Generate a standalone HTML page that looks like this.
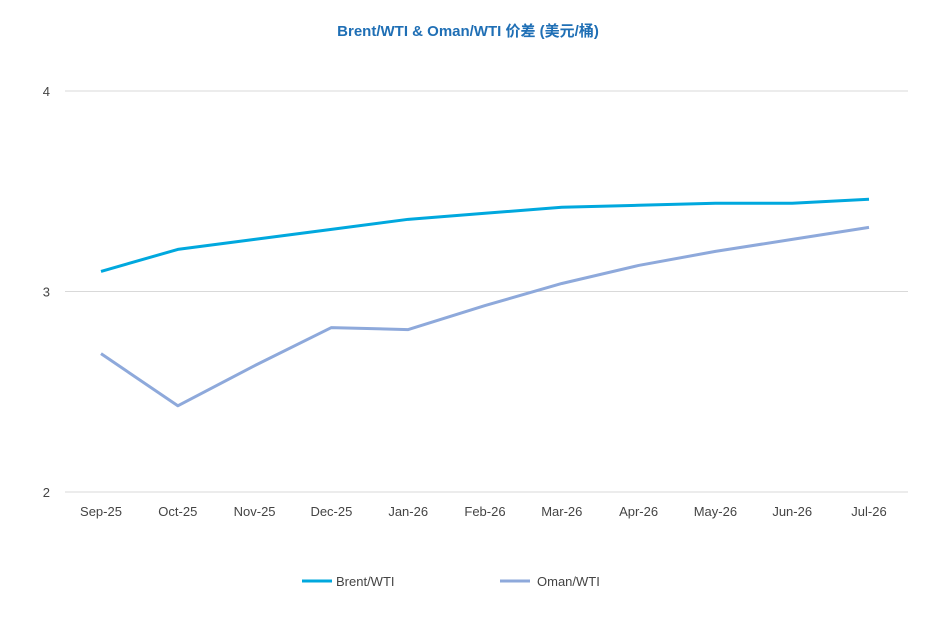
<!DOCTYPE html>
<html><head><meta charset="utf-8"><style>
html,body{margin:0;padding:0;background:#fff;}
svg{display:block;font-family:"Liberation Sans","Noto Sans CJK SC",sans-serif;}
</style></head><body>
<svg id="chart" width="937" height="634" viewBox="0 0 937 634">
<text x="468" y="36" text-anchor="middle" font-size="15" font-weight="bold" fill="#1F6FB5">Brent/WTI &amp; Oman/WTI 价差 (美元/桶)</text>
<g id="grid"></g><g id="xlabels"></g><g id="lines"></g>
<g>
<line x1="302" y1="581" x2="332" y2="581" stroke="#00A8DE" stroke-width="3"/>
<text x="336" y="586" font-size="13" fill="#444">Brent/WTI</text>
<line x1="500" y1="581" x2="530" y2="581" stroke="#8EA9DB" stroke-width="3"/>
<text x="537" y="586" font-size="13" fill="#444">Oman/WTI</text>
</g>
</svg>
<script>
const categories=["Sep-25","Oct-25","Nov-25","Dec-25","Jan-26","Feb-26","Mar-26","Apr-26","May-26","Jun-26","Jul-26"];
const brentWti=[3.10,3.21,3.26,3.31,3.36,3.39,3.42,3.43,3.44,3.44,3.46];
const omanWti=[2.69,2.43,2.63,2.82,2.81,2.93,3.04,3.13,3.20,3.26,3.32];
const yTicks=[2,3,4];
const NS="http://www.w3.org/2000/svg";
const x=i=>101+i*(869-101)/(categories.length-1);
const y=v=>492-(v-2)*200.5;
function mk(t,a,p){const e=document.createElementNS(NS,t);for(const k in a)e.setAttribute(k,a[k]);p.appendChild(e);return e;}
const grid=document.getElementById('grid');
yTicks.forEach(t=>{
  const l=mk('line',{x1:65,x2:908,y1:y(t),y2:y(t),stroke:'#d9d9d9','stroke-width':1},grid);
  
  
  const tx=mk('text',{x:50,y:y(t)+5,'font-size':13,fill:'#444','text-anchor':'end'},grid);
  tx.textContent=t;
  
  
});
const xl=document.getElementById('xlabels');
categories.forEach((c,i)=>{
  const tx=mk('text',{x:x(i),y:516,'font-size':13,fill:'#444','text-anchor':'middle'},xl);
  tx.textContent=c;
  
  
});
const lines=document.getElementById('lines');
function series(vals,color,name){
  const p=mk('polyline',{points:vals.map((v,i)=>x(i)+','+y(v)).join(' '),fill:'none',stroke:color,'stroke-width':3,'stroke-linejoin':'round'},lines);
  
  
}
series(omanWti,'#8EA9DB','oman-wti-line');
series(brentWti,'#00A8DE','brent-wti-line');
</script>
</body></html>
